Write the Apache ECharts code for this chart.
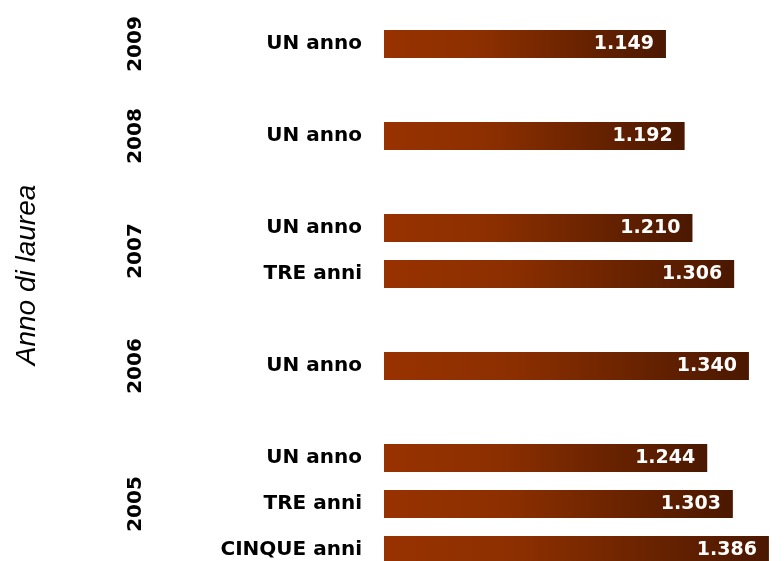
<!DOCTYPE html>
<html>
<head>
<meta charset="utf-8">
<script src="https://cdn.jsdelivr.net/npm/echarts@6/dist/echarts.min.js"></script>
<style>
  html, body { margin: 0; padding: 0; background: #fff; }
  #chart { width: 784px; height: 561px; }
</style>
</head>
<body>
<div id="chart"></div>
<script>
// One row per slot, top to bottom; empty strings are spacer rows between years.
const rowLabels = ['UN anno', '', 'UN anno', '', 'UN anno', 'TRE anni', '', 'UN anno', '', 'UN anno', 'TRE anni', 'CINQUE anni'];
const rowYears  = ['2009', '', '2008', '', '2007', '2007', '', '2006', '', '2005', '2005', '2005'];
const values    = [1.149, null, 1.192, null, 1.210, 1.306, null, 1.340, null, 1.244, 1.303, 1.386];
const years     = ['2009', '2008', '2007', '2006', '2005'];
const axisTitle = 'Anno di laurea';

// Centre of each year group, in row units, for the year axis labels.
const yearCenters = years.map(y => {
  const idx = rowYears.map((v, i) => v === y ? i : -1).filter(i => i >= 0);
  return idx.reduce((a, b) => a + b, 0) / idx.length;
});

const fmt = v => v.toFixed(3);

const chart = echarts.init(document.getElementById('chart'), null, { renderer: 'canvas' });
chart.setOption({
  animation: false,
  backgroundColor: '#ffffff',
  grid: {
    left: 384, right: 9, top: 21, height: 552,
    containLabel: false, outerBoundsMode: 'none'
  },
  xAxis: {
    type: 'value', min: 0.5, max: 1.4,
    show: false
  },
  yAxis: [
    {
      type: 'category', inverse: true, data: rowLabels,
      axisLine: { show: false }, axisTick: { show: false }, splitLine: { show: false },
      axisLabel: {
        margin: 22, color: '#000', fontFamily: 'DejaVu Sans', fontWeight: 'bold', fontSize: 20
      }
    },
    {
      type: 'value', inverse: true, min: -0.5, max: rowLabels.length - 0.5,
      position: 'left', offset: 238,
      axisLine: { show: false }, axisTick: { show: false }, splitLine: { show: false },
      axisLabel: {
        customValues: yearCenters,
        rotate: 90, margin: 0,
        color: '#000', fontFamily: 'DejaVu Sans', fontWeight: 'bold', fontSize: 20,
        formatter: v => {
          const k = yearCenters.findIndex(c => Math.abs(c - v) < 1e-6);
          return k >= 0 ? years[k] : '';
        }
      }
    }
  ],
  graphic: [{
    type: 'text', x: 27, y: 275, rotation: Math.PI / 2,
    style: {
      text: axisTitle, fill: '#000', fontFamily: 'Liberation Sans', fontStyle: 'italic',
      fontSize: 28, align: 'center', verticalAlign: 'middle'
    }
  }],
  series: [{
    type: 'bar',
    yAxisIndex: 0,
    data: values,
    barWidth: 28,
    itemStyle: {
      color: new echarts.graphic.LinearGradient(0, 0, 1, 0, [
        { offset: 0, color: '#983200' },
        { offset: 0.35, color: '#8c2f00' },
        { offset: 1, color: '#4a1800' }
      ])
    },
    label: {
      show: true, position: 'insideRight', distance: 12,
      color: '#fff', fontFamily: 'DejaVu Sans', fontWeight: 'bold', fontSize: 19,
      formatter: p => p.value == null ? '' : fmt(p.value)
    }
  }]
});
</script>
</body>
</html>
